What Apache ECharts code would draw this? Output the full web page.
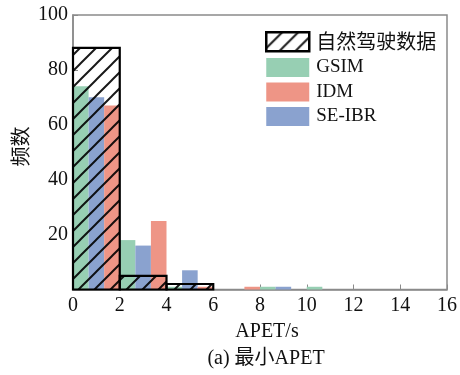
<!DOCTYPE html>
<html>
<head>
<meta charset="utf-8">
<script src="https://cdn.jsdelivr.net/npm/echarts@6/dist/echarts.min.js"></script>
<style>html,body{margin:0;padding:0;background:#fff}#c{width:460px;height:375px}</style>
</head>
<body>
<div id="c"></div>
<script>
// ---- data ----
const binStarts = [0, 2, 4, 6, 8, 10, 12, 14];
const binWidth = 2;
const natural = [88, 5, 2, 0, 0, 0, 0, 0];
const gsim = [74, 18, 1, 0, 1, 1, 0, 0];
const seibr = [70, 16, 7, 0, 1, 0, 0, 0];
const idm = [67, 25, 1, 1, 0, 0, 0, 0];
const xTicks = [0, 2, 4, 6, 8, 10, 12, 14, 16];
const yTicks = [0, 20, 40, 60, 80, 100];
const names = ['自然驾驶数据', 'GSIM', 'IDM', 'SE-IBR'];

const SERIF = '"Liberation Serif","Times New Roman","Noto Sans CJK SC",serif';
const colors = { GSIM: '#97cfb3', IDM: '#ee9586', 'SE-IBR': '#8aa2cf' };

// hatch pattern tile
const tile = document.createElement('canvas');
const T = 16;
tile.width = T; tile.height = T;
const cx = tile.getContext('2d');
cx.strokeStyle = 'rgba(0,0,0,0.9)';
cx.lineWidth = 2;
cx.beginPath();
cx.moveTo(0, T); cx.lineTo(T, 0);
cx.moveTo(-4, 4); cx.lineTo(4, -4);
cx.moveTo(T - 4, T + 4); cx.lineTo(T + 4, T - 4);
cx.stroke();
const hatch = { image: tile, repeat: 'repeat' };

function subData(values, k) {
  return binStarts.map((s, i) => [s + k * binWidth / 3, s + (k + 1) * binWidth / 3, values[i]]);
}
function binData(values) {
  return binStarts.map((s, i) => [s, s + binWidth, values[i]]);
}
function rectRender(fillStyle, stroke) {
  return function (params, api) {
    const v = api.value(2);
    if (!v) return null;
    const p0 = api.coord([api.value(0), v]);
    const p1 = api.coord([api.value(1), 0]);
    const shape = { x: p0[0], y: p0[1], width: p1[0] - p0[0], height: p1[1] - p0[1] };
    return {
      type: 'rect',
      shape: shape,
      style: stroke ? { fill: fillStyle, stroke: '#000', lineWidth: 2.2 } : { fill: fillStyle }
    };
  };
}

const chart = echarts.init(document.getElementById('c'), null, { renderer: 'canvas' });
chart.setOption({
  animation: false,
  grid: { left: 73, top: 15, width: 374.5, height: 274.5, show: true, borderColor: '#8a8a8a', borderWidth: 1.5, backgroundColor: 'transparent' },
  xAxis: {
    type: 'value', min: xTicks[0], max: xTicks[xTicks.length - 1], interval: 2,
    axisLine: { lineStyle: { color: '#8a8a8a', width: 1.5 } },
    axisTick: { show: true, inside: true, length: 5, lineStyle: { color: '#8a8a8a' } },
    splitLine: { show: false },
    axisLabel: { fontFamily: SERIF, fontSize: 20, color: '#111', margin: 6 }
  },
  yAxis: {
    type: 'value', min: yTicks[0], max: yTicks[yTicks.length - 1], interval: 20,
    axisLine: { show: true, lineStyle: { color: '#8a8a8a', width: 1.5 } },
    axisTick: { show: true, inside: true, length: 5, lineStyle: { color: '#8a8a8a' } },
    splitLine: { show: false },
    axisLabel: { fontFamily: SERIF, fontSize: 20, color: '#111', margin: 5,
      formatter: v => (v === 0 ? '' : String(v)) }
  },
  legend: {
    orient: 'vertical', left: 265, top: 31, padding: 0, itemWidth: 43, itemHeight: 19, itemGap: 5.5,
    icon: 'rect',
    textStyle: { fontFamily: SERIF, fontSize: 19, color: '#111', padding: [0, 0, 0, 2],
      rich: { cn: { fontFamily: '"Noto Sans CJK SC",sans-serif', fontSize: 20, color: '#111' } } },
    formatter: n => (n === names[0] ? '{cn|' + n + '}' : n),
    data: [
      { name: names[0], itemStyle: { color: hatch, borderColor: '#000', borderWidth: 2.5 } },
      { name: names[1], itemStyle: { color: colors.GSIM } },
      { name: names[2], itemStyle: { color: colors.IDM } },
      { name: names[3], itemStyle: { color: colors['SE-IBR'] } }
    ]
  },
  series: [
    { name: 'GSIM', type: 'custom', z: 2, itemStyle: { color: colors.GSIM }, renderItem: rectRender(colors.GSIM), encode: { x: [0, 1], y: 2 }, data: subData(gsim, 0) },
    { name: 'SE-IBR', type: 'custom', z: 2, itemStyle: { color: colors['SE-IBR'] }, renderItem: rectRender(colors['SE-IBR']), encode: { x: [0, 1], y: 2 }, data: subData(seibr, 1) },
    { name: 'IDM', type: 'custom', z: 2, itemStyle: { color: colors.IDM }, renderItem: rectRender(colors.IDM), encode: { x: [0, 1], y: 2 }, data: subData(idm, 2) },
    { name: names[0], type: 'custom', z: 3, itemStyle: { color: hatch, borderColor: '#000', borderWidth: 2.5 }, renderItem: rectRender(hatch, true), encode: { x: [0, 1], y: 2 }, data: binData(natural) }
  ],
  graphic: [
    { type: 'text', x: 20, y: 146.5, rotation: Math.PI / 2,
      style: { text: '频数', fontFamily: '"Noto Sans CJK SC",sans-serif', fontSize: 20, fill: '#111', align: 'center', verticalAlign: 'middle' } },
    { type: 'text', x: 267, y: 332,
      style: { text: 'APET/s', fontFamily: SERIF, fontSize: 20, fill: '#111', align: 'center', verticalAlign: 'middle' } },
    { type: 'text', x: 266, y: 359,
      style: { text: '(a) 最小APET', fontFamily: SERIF, fontSize: 20, fill: '#111', align: 'center', verticalAlign: 'middle' } }
  ]
});
</script>
</body>
</html>
